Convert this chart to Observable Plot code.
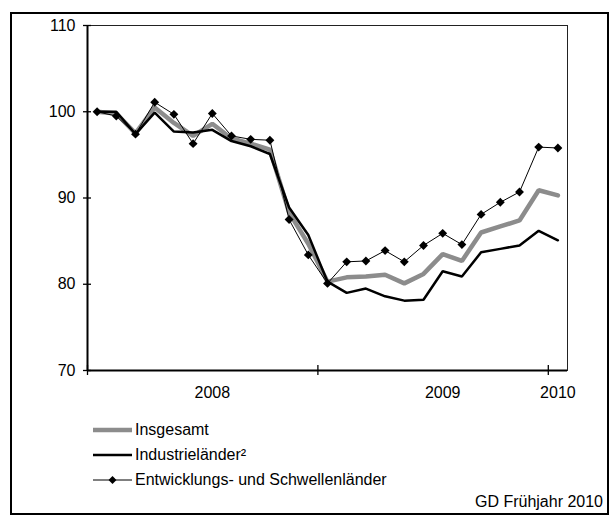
<!DOCTYPE html>
<html>
<head>
<meta charset="utf-8">
<script src="https://cdn.jsdelivr.net/npm/d3@7"></script>
<script src="https://cdn.jsdelivr.net/npm/@observablehq/plot@0.6"></script>
<style>
  html, body { margin: 0; padding: 0; background: #fff; }
  #wrap { position: relative; width: 611px; height: 516px; font-family: "Liberation Sans", Arial, sans-serif; color: #000; }
  #border { position: absolute; left: 10px; top: 12px; width: 595px; height: 499px; border: 2px solid #000; }
  #chart { position: absolute; left: 0; top: 0; }
  #legend { position: absolute; left: 93px; top: 417px; font-size: 16px; }
  .row { display: flex; align-items: center; height: 25px; }
  .row svg { margin-right: 3px; }
  #source { position: absolute; right: 8px; top: 493px; font-size: 16px; }
</style>
</head>
<body>
<div id="wrap">
  <div id="border"></div>
  <div id="chart"></div>
  <div id="legend"></div>
  <div id="source">GD Frühjahr 2010</div>
</div>
<script>
// Months Jan 2008 .. Jan 2010 (index 0..24)
const months = d3.range(25);
const insgesamt = [100, 99.8, 97.5, 100.5, 98.7, 97.2, 98.6, 96.9, 96.3, 95.6, 88.3, 84.7, 80.3,
  80.8, 80.9, 81.1, 80.1, 81.2, 83.5, 82.7, 86.0, 86.7, 87.4, 90.9, 90.3];
const industrie = [100, 100, 97.4, 99.9, 97.7, 97.6, 97.9, 96.6, 96.0, 95.1, 88.9, 85.7, 80.3,
  79.0, 79.5, 78.6, 78.1, 78.2, 81.5, 80.9, 83.7, 84.1, 84.5, 86.2, 85.1];
const entwicklung = [100, 99.5, 97.4, 101.1, 99.7, 96.3, 99.8, 97.2, 96.8, 96.7, 87.5, 83.4, 80.1,
  82.6, 82.7, 83.9, 82.6, 84.5, 85.9, 84.6, 88.1, 89.5, 90.7, 95.9, 95.8];
const yTicks = [70, 80, 90, 100, 110];
const yearBoundaries = [0, 12, 24];
const yearLabels = ["2008", "2009", "2010"];
const yearLabelPos = [6.5, 18.5, 24.5];
const seriesNames = ["Insgesamt", "Industrieländer²", "Entwicklungs- und Schwellenländer"];

const rows = (vals) => months.map((m, i) => ({x: m + 0.5, y: vals[i]}));

const plot = Plot.plot({
  width: 611,
  height: 400,
  marginLeft: 87,
  marginRight: 44,
  marginTop: 25,
  marginBottom: 30,
  style: {fontFamily: "Liberation Sans, Arial, sans-serif", fontSize: "16px", color: "#000", background: "transparent"},
  x: {domain: [0, 25], axis: null, label: null},
  y: {domain: [70, 110], axis: null, label: null},
  marks: [
    Plot.frame({stroke: "#222", strokeWidth: 1}),
    Plot.ruleX([0], {stroke: "#000", strokeWidth: 2}),
    Plot.ruleY([70], {stroke: "#000", strokeWidth: 2}),
    Plot.ruleY(yTicks, {y: d => d, x1: 0, x2: 0, insetLeft: -4, insetRight: -4, stroke: "#000", strokeWidth: 1.3}),
    Plot.ruleX(yearBoundaries, {x: d => d, y1: 70, y2: 70, insetTop: -5, insetBottom: -5, stroke: "#000", strokeWidth: 1.3}),
    Plot.axisY({ticks: yTicks, tickSize: 0, tickPadding: 12, fontSize: 16, label: null}),
    Plot.axisX({ticks: yearLabelPos, tickSize: 0, tickPadding: 16, fontSize: 16, label: null,
      tickFormat: d => yearLabels[yearLabelPos.indexOf(d)]}),
    Plot.line(rows(insgesamt), {x: "x", y: "y", stroke: "#8c8c8c", strokeWidth: 4.5, strokeLinejoin: "miter"}),
    Plot.line(rows(industrie), {x: "x", y: "y", stroke: "#000", strokeWidth: 2.5, strokeLinejoin: "miter"}),
    Plot.line(rows(entwicklung), {x: "x", y: "y", stroke: "#000", strokeWidth: 1}),
    Plot.dot(rows(entwicklung), {x: "x", y: "y", symbol: "diamond2", r: 4, fill: "#000", stroke: "none"})
  ]
});
document.getElementById("chart").appendChild(plot);

// legend
const legend = d3.select("#legend");
const styles = [
  {stroke: "#8c8c8c", width: 4.5, marker: false},
  {stroke: "#000", width: 2.5, marker: false},
  {stroke: "#000", width: 1, marker: true}
];
seriesNames.forEach((name, i) => {
  const row = legend.append("div").attr("class", "row");
  const svg = row.append("svg").attr("width", 39).attr("height", 12);
  svg.append("line").attr("x1", 0).attr("x2", 39).attr("y1", 6).attr("y2", 6)
    .attr("stroke", styles[i].stroke).attr("stroke-width", styles[i].width);
  if (styles[i].marker) {
    svg.append("path").attr("d", d3.symbol(d3.symbolDiamond2, 40)()).attr("transform", "translate(19.5,6)").attr("fill", "#000");
  }
  row.append("span").text(name);
});
</script>
</body>
</html>
